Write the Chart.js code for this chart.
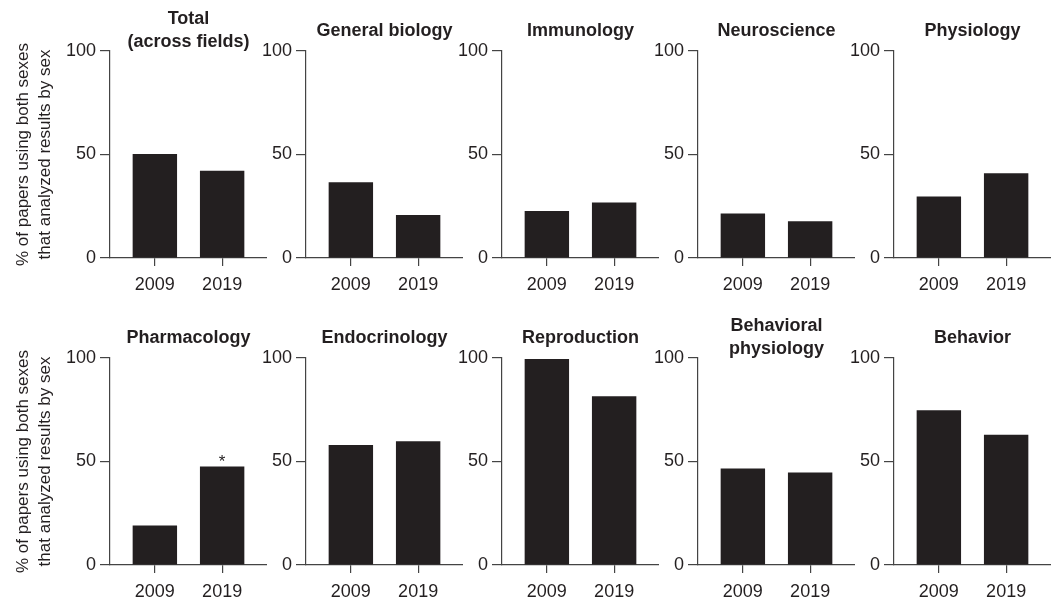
<!DOCTYPE html>
<html>
<head>
<meta charset="utf-8">
<script src="https://cdn.jsdelivr.net/npm/chart.js@4"></script>
<style>
  body { margin: 0; background: #fff; }
  #wrap { position: relative; width: 1052px; height: 599px; overflow: hidden; }
  #wrap canvas { position: absolute; }
</style>
</head>
<body>
<div id="wrap"></div>
<script>
const fieldTitles = [
  ['Total', '(across fields)'], 'General biology', 'Immunology', 'Neuroscience', 'Physiology',
  'Pharmacology', 'Endocrinology', 'Reproduction', ['Behavioral', 'physiology'], 'Behavior'
]
const years = ['2009', '2019']
const values2009 = [50.2, 36.6, 22.7, 21.5, 29.7, 19.1, 58.0, 99.5, 46.6, 74.8]
const values2019 = [42.1, 20.8, 26.8, 17.7, 41.0, 47.6, 59.8, 81.5, 44.7, 62.9]
const marks2019 = ['', '', '', '', '', '*', '', '', '', '']
const yTicks = [0, 50, 100]
const yTitle = ['% of papers using both sexes', 'that analyzed results by sex']

const wrap = document.getElementById('wrap')
const textColor = '#231f20'
const axisColor = '#444'
const fontFamily = '"Liberation Sans", Arial, Helvetica, sans-serif'

// little plugin for the significance star above a bar
const starPlugin = {
  id: 'stars',
  afterDatasetsDraw(chart) {
    const ds = chart.data.datasets[0]
    const meta = chart.getDatasetMeta(0)
    const ctx = chart.ctx
    ctx.save()
    ctx.fillStyle = textColor
    ctx.font = '17px ' + fontFamily
    ctx.textAlign = 'center'
    ctx.textBaseline = 'alphabetic'
    meta.data.forEach((bar, i) => {
      if (ds.marks[i]) ctx.fillText(ds.marks[i], bar.x, bar.y + 1)
    })
    ctx.restore()
  }
}

for (let p = 0; p < fieldTitles.length; p++) {
  const row = Math.floor(p / 5)
  const col = p % 5
  const yAxisW = col === 0 ? 110 : 46
  const axisX = 110 + col * 196
  const canvas = document.createElement('canvas')
  canvas.width = yAxisW + 157
  canvas.height = 300
  canvas.style.left = (axisX - yAxisW) + 'px'
  canvas.style.top = (row === 0 ? 0 : 307) + 'px'
  wrap.appendChild(canvas)

  const twoLines = Array.isArray(fieldTitles[p])

  new Chart(canvas, {
    type: 'bar',
    data: {
      datasets: [{
        data: years.map((y, i) => ({ x: i + 1, y: [values2009, values2019][i][p] })),
        marks: ['', marks2019[p]],
        backgroundColor: textColor,
        borderWidth: 0,
        categoryPercentage: 1,
        barPercentage: 0.66
      }]
    },
    options: {
      responsive: false,
      animation: false,
      devicePixelRatio: 1,
      layout: { padding: 0 },
      plugins: {
        legend: { display: false },
        tooltip: { enabled: false },
        title: {
          display: true,
          fullSize: false,
          text: fieldTitles[p],
          color: textColor,
          font: { family: fontFamily, size: 18, weight: 'bold', lineHeight: 1.25 },
          padding: twoLines ? { top: 8, bottom: -2 } : { top: 20, bottom: 8.5 }
        }
      },
      scales: {
        x: {
          type: 'linear',
          min: 1 / 3,
          max: 8 / 3,
          offset: false,
          afterBuildTicks: (s) => { s.ticks = years.map((y, i) => ({ value: i + 1 })) },
          afterFit: (s) => { s.height = 42 },
          ticks: {
            callback: (v, i) => years[i],
            color: textColor,
            font: { family: fontFamily, size: 18 },
            padding: 8,
            maxRotation: 0,
            autoSkip: false
          },
          grid: { offset: false, drawOnChartArea: false, drawTicks: true, tickLength: 8, color: axisColor, lineWidth: 1.2 },
          border: { display: true, color: axisColor, width: 1.2 }
        },
        y: {
          min: yTicks[0],
          max: yTicks[yTicks.length - 1],
          afterBuildTicks: (s) => { s.ticks = yTicks.map(v => ({ value: v })) },
          afterFit: (s) => { s.width = yAxisW },
          ticks: {
            color: textColor,
            font: { family: fontFamily, size: 18 },
            padding: 4
          },
          grid: { drawOnChartArea: false, drawTicks: true, tickLength: 10, color: axisColor, lineWidth: 1.2 },
          border: { display: true, color: axisColor, width: 1.2 },
          title: {
            display: col === 0,
            text: yTitle,
            color: textColor,
            font: { family: fontFamily, size: 17, lineHeight: 1.3 },
            padding: { top: 12, bottom: 0 }
          }
        }
      }
    },
    plugins: [starPlugin]
  })
}
</script>
</body>
</html>
